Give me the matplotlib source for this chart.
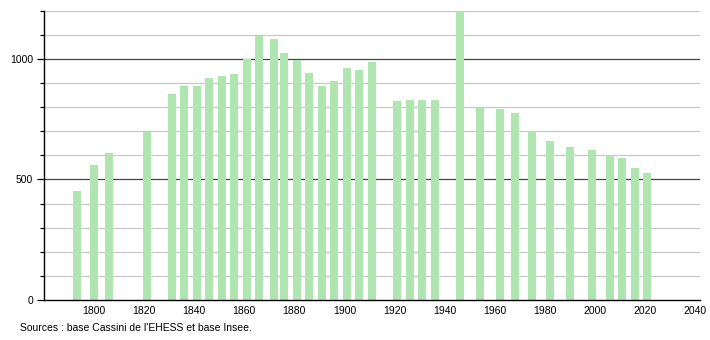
import matplotlib.pyplot as plt

plt.rcParams['font.family'] = ['Liberation Sans', 'DejaVu Sans']

# recensements
years = [1793, 1800, 1806, 1821, 1831, 1836, 1841, 1846, 1851, 1856,
         1861, 1866, 1872, 1876, 1881, 1886, 1891, 1896, 1901, 1906,
         1911, 1921, 1926, 1931, 1936, 1946, 1954, 1962, 1968, 1975,
         1982, 1990, 1999, 2006, 2011, 2016, 2021]
population = [453, 558, 611, 695, 852, 885, 887, 922, 930, 935,
              1000, 1094, 1082, 1023, 993, 940, 885, 909, 963, 953,
              986, 823, 827, 827, 827, 1205, 795, 791, 777, 701,
              661, 636, 623, 601, 590, 547, 528]
y_labels = [0, 500, 1000]
x_labels = list(range(1800, 2041, 20))

fig = plt.figure(figsize=(7.1, 3.4), dpi=100)
ax = fig.add_axes([44 / 710, 40 / 340, 656 / 710, 289.5 / 340])

# grille
for v in range(100, 1201, 100):
    if v % 500 == 0:
        ax.axhline(v, color='#444444', lw=0.9, zorder=1)
    else:
        ax.axhline(v, color='#c8c8c8', lw=0.9, zorder=1)

ax.bar(years, population, width=3.2, color='#b0e4b0', zorder=2)

ax.set_xlim(1780, 2042)
ax.set_ylim(0, 1200)
ax.set_xticks(x_labels)
ax.set_yticks(y_labels)
ax.set_yticks(range(0, 1201, 100), minor=True)
ax.tick_params(axis='x', length=0, labelsize=7.5, pad=4)
ax.tick_params(axis='y', which='major', length=5, width=0.9, labelsize=7.5, pad=3)
ax.tick_params(axis='y', which='minor', length=3, width=0.9)

for s in ['top', 'right']:
    ax.spines[s].set_visible(False)
ax.spines['left'].set_linewidth(1)
ax.spines['bottom'].set_linewidth(1)

fig.text(20 / 710, 1 - 328 / 340, "Sources : base Cassini de l'EHESS et base Insee.",
         fontsize=7.5, va='center')

fig.savefig('out.png', dpi=100)
